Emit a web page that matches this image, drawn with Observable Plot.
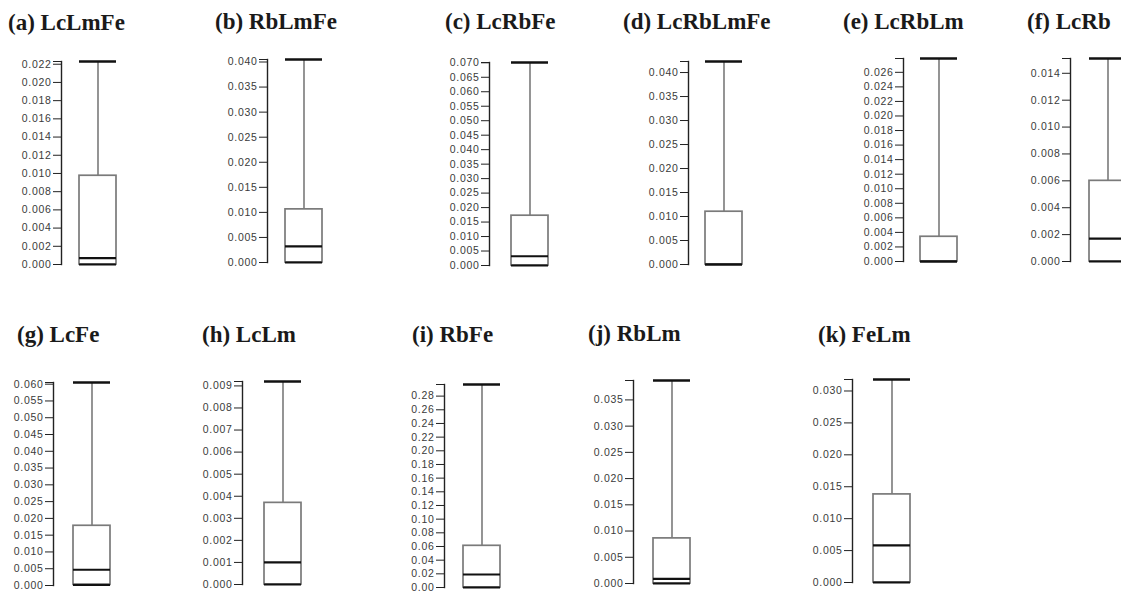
<!DOCTYPE html>
<html>
<head>
<meta charset="utf-8">
<script src="https://cdn.jsdelivr.net/npm/d3@7"></script>
<script src="https://cdn.jsdelivr.net/npm/@observablehq/plot@0.6"></script>
<style>
  html, body { margin: 0; padding: 0; background: #fff; }
  #root { position: relative; width: 1121px; height: 595px; overflow: hidden; background: #fff; }
  .title { position: absolute; font-family: "Liberation Serif", "Times New Roman", serif; font-weight: bold;
           font-size: 23px; line-height: 23px; color: #1a1a1a; white-space: nowrap; }
  .panel { position: absolute; width: 140px; }
  .panel svg { max-width: none !important; }
</style>
</head>
<body>
<div id="root"></div>
<script>
// ---- data ----
const panelLetters = ["a", "b", "c", "d", "e", "f", "g", "h", "i", "j", "k"];
const panelNames = ["LcLmFe", "RbLmFe", "LcRbFe", "LcRbLmFe", "LcRbLm", "LcRb", "LcFe", "LcLm", "RbFe", "RbLm", "FeLm"];
const whiskerMax = [0.0223, 0.0405, 0.0701, 0.0423, 0.0279, 0.0151, 0.0605, 0.0092, 0.297, 0.0387, 0.0318];
const upperQuartile = [0.00975, 0.0106, 0.0172, 0.0110, 0.0034, 0.0060, 0.0178, 0.0037, 0.061, 0.0086, 0.0138];
const medianValue = [0.0007, 0.0032, 0.0032, 0.0, 0.0, 0.0017, 0.0047, 0.0010, 0.019, 0.0009, 0.0058];
const lowerQuartile = [0, 0, 0, 0, 0, 0, 0.0002, 0, 0, 0, 0];

// ---- layout (pixel placement of each small panel) ----
const axisX = [60.7, 267.3, 489.3, 688.3, 903.3, 1070, 52.7, 241.7, 444.3, 633.3, 852.3];
const domainTopY = [60.7, 59.3, 61.7, 60.7, 57.7, 57.7, 381.7, 381, 383.7, 380, 379];
const boxGap = [17.6, 18.4, 22.4, 17.4, 16.7, 19, 20, 21.6, 19, 20, 21];
const titleX = [8, 215, 445, 623, 843, 1027, 17, 202, 412, 588, 818];
const titleBaseline = [30, 29, 29, 29, 29.5, 29, 342, 342, 342, 341, 342];

const ML = 55, MT = 8, MB = 8, RANGE = 203, BOXW = 37, SVGW = 140;
const root = document.getElementById("root");

panelNames.forEach((name, i) => {
  const d = [{name, q1: lowerQuartile[i], med: medianValue[i], q3: upperQuartile[i], max: whiskerMax[i]}];
  const x0 = ML + boxGap[i];
  const chart = Plot.plot({
    width: SVGW,
    height: MT + RANGE + MB,
    marginLeft: ML, marginRight: 0, marginTop: MT, marginBottom: MB,
    style: {fontFamily: "'Liberation Sans', Arial, sans-serif", fontSize: "10.5px", letterSpacing: "0.7px", color: "#2b2b2b", background: "transparent", overflow: "visible", maxWidth: "none"},
    x: {type: "band", domain: [name], range: [x0, x0 + BOXW], padding: 0, axis: null},
    y: {domain: [0, whiskerMax[i]], range: [MT + RANGE, MT]},
    marks: [
      Plot.frame({anchor: "left", stroke: "#222", strokeWidth: 1.4}),
      Plot.axisY({ticks: 10, tickSize: 8, tickPadding: 2, label: null, stroke: "#222", fill: "#3a3a3a"}),
      Plot.axisY([whiskerMax[i]], {tickSize: 8, tickFormat: () => "", label: null, stroke: "#222"}),
      Plot.ruleX(d, {x: "name", y1: "q3", y2: "max", stroke: "#7a7a7a", strokeWidth: 1.6}),
      Plot.barY(d, {x: "name", y1: "q1", y2: "q3", fill: "white", stroke: "#7a7a7a", strokeWidth: 1.7}),
      Plot.tickY(d, {x: "name", y: "q1", stroke: "#111", strokeWidth: 2.2}),
      Plot.tickY(d, {x: "name", y: "med", stroke: "#111", strokeWidth: 2.2}),
      Plot.tickY(d, {x: "name", y: "max", stroke: "#111", strokeWidth: 2.6})
    ]
  });
  const wrap = document.createElement("div");
  wrap.className = "panel";
  wrap.style.left = (axisX[i] - ML) + "px";
  wrap.style.top = (domainTopY[i] - MT) + "px";
  wrap.appendChild(chart);
  root.appendChild(wrap);

  const t = document.createElement("div");
  t.className = "title";
  t.textContent = "(" + panelLetters[i] + ") " + name;
  t.style.left = titleX[i] + "px";
  t.style.top = (titleBaseline[i] - 19.5) + "px";
  root.appendChild(t);
});
</script>
</body>
</html>
